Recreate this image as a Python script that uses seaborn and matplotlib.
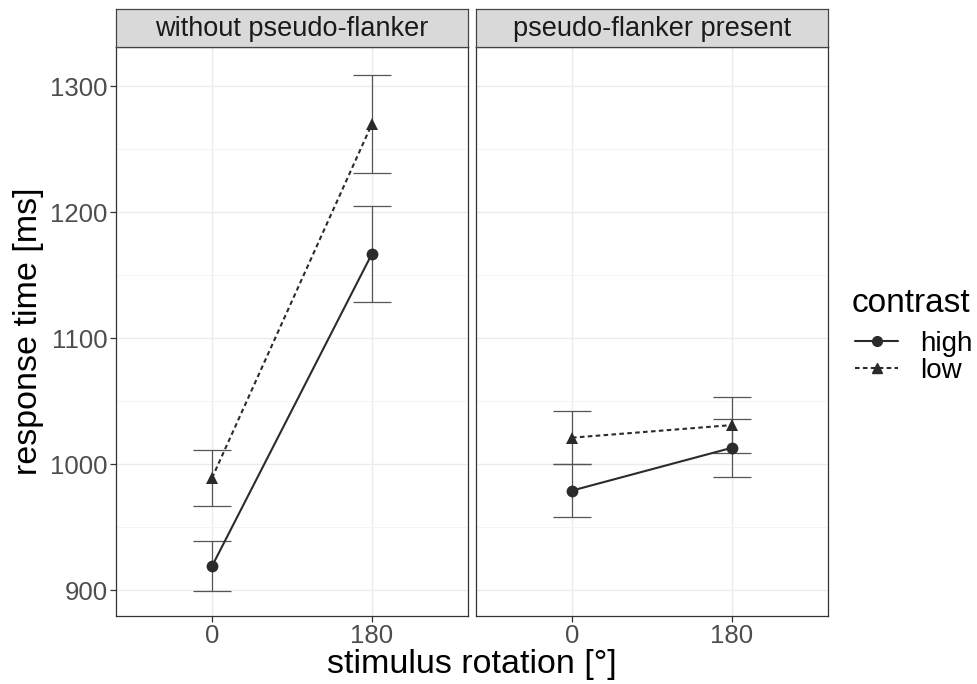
import numpy as np
import pandas as pd
import matplotlib
matplotlib.use("Agg")
import matplotlib.pyplot as plt
import seaborn as sns
from matplotlib.lines import Line2D

panels = ["without pseudo-flanker", "pseudo-flanker present"]
rotations = ["0", "180"]
contrasts = ["high", "low"]

# means [panel][contrast][rotation]
rt_high_without = [919, 1167]
rt_low_without = [989, 1270]
rt_high_present = [979, 1013]
rt_low_present = [1021, 1031]
# error bar half-widths
err_high_without = [20, 38]
err_low_without = [22, 39]
err_high_present = [21, 23]
err_low_present = [21, 22]

rows = []
for p, (hi_m, lo_m, hi_e, lo_e) in zip(panels, [
        (rt_high_without, rt_low_without, err_high_without, err_low_without),
        (rt_high_present, rt_low_present, err_high_present, err_low_present)]):
    for c, m, e in [("high", hi_m, hi_e), ("low", lo_m, lo_e)]:
        for i, r in enumerate(rotations):
            rows.append(dict(panel=p, rotation=r, xpos=i, contrast=c, rt=m[i], err=e[i]))
df = pd.DataFrame(rows)

sns.set_theme(style="whitegrid")
plt.rcParams['font.family'] = ['Liberation Sans', 'DejaVu Sans']
plt.rcParams['text.color'] = 'black'

fig = plt.figure(figsize=(9.77, 6.84), dpi=100)
W, H = 977, 684
top_px, bot_px = 47, 616
strip_h = 38
lefts = [116, 476]
pw = 352
for k, p in enumerate(panels):
    ax = fig.add_axes([lefts[k] / W, 1 - bot_px / H, pw / W, (bot_px - top_px) / H])
    sub = df[df.panel == p]
    sns.lineplot(data=sub, x="xpos", y="rt", style="contrast", style_order=contrasts,
                 markers={"high": "o", "low": "^"}, dashes={"high": "", "low": (2.2, 1.6)},
                 color="#2b2b2b", markersize=8.5, linewidth=1.5, markeredgewidth=0,
                 legend=False, ax=ax, zorder=3)
    for c in contrasts:
        s = sub[sub.contrast == c]
        ax.errorbar(s.xpos, s.rt, yerr=s.err, fmt="none", ecolor="#555555",
                    elinewidth=0.9, capsize=14, capthick=0.9, zorder=2)
    ax.set_xlim(-0.6, 1.6)
    ax.set_ylim(879.5, 1331)
    ax.set_xticks([0, 1])
    ax.set_xticklabels(rotations)
    ax.set_yticks([900, 1000, 1100, 1200, 1300])
    ax.set_yticks([950, 1050, 1150, 1250], minor=True)
    ax.grid(which="major", color="#ebebeb", linewidth=1.0)
    ax.grid(which="minor", color="#f3f3f3", linewidth=0.6)
    ax.set_facecolor("white")
    for sp in ax.spines.values():
        sp.set_color("#333333")
        sp.set_linewidth(0.9)
    ax.tick_params(axis="both", which="major", length=4, width=0.9, color="#333333",
                   labelsize=18.5, labelcolor="#4d4d4d", pad=2)
    ax.tick_params(axis="y", which="minor", length=0)
    ax.tick_params(bottom=True, left=True)
    ax.set_xlabel("")
    ax.set_ylabel("")
    if k == 1:
        ax.tick_params(axis="y", labelleft=False, left=False)
    # strip
    sax = fig.add_axes([lefts[k] / W, 1 - top_px / H, pw / W, strip_h / H])
    sax.set_xticks([]); sax.set_yticks([])
    sax.set_facecolor("#d9d9d9")
    for sp in sax.spines.values():
        sp.set_color("#444444")
        sp.set_linewidth(0.9)
    sax.text(0.5, 0.47, p, ha="center", va="center", fontsize=19.5, color="#1a1a1a",
             transform=sax.transAxes)

fig.text(0.5 * (lefts[0] + lefts[1] + pw) / W, 1 - 665 / H, "stimulus rotation [°]",
         ha="center", va="center", fontsize=24.5, color="black")
fig.text(29 / W, 1 - 331 / H, "response time [ms]", ha="center", va="center",
         rotation=90, fontsize=24.5, color="black")

# legend
fig.text(852 / W, 1 - 312 / H, "contrast", ha="left", va="baseline", fontsize=24, color="black")
handles = [Line2D([], [], color="#2b2b2b", marker="o", linestyle="-", markersize=7, linewidth=1.5),
           Line2D([], [], color="#2b2b2b", marker="^", linestyle=(0, (2.2, 1.6)), markersize=7, linewidth=1.5)]
leg = fig.legend(handles, contrasts, loc="center left",
                 bbox_to_anchor=(855 / W, 1 - 357.5 / H), frameon=False, fontsize=20,
                 handlelength=1.55, handletextpad=0.8, labelspacing=0.04,
                 borderpad=0, borderaxespad=0, labelcolor="black")

fig.savefig("out.png", dpi=100)
